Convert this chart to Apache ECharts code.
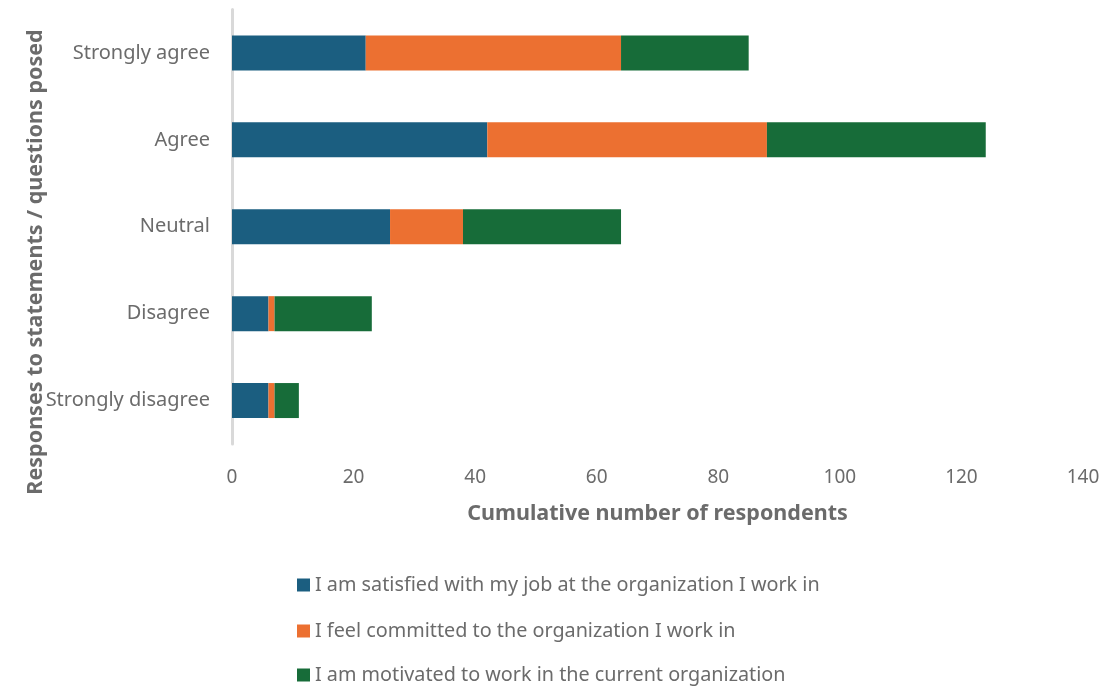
<!DOCTYPE html>
<html>
<head>
<meta charset="utf-8">
<script src="https://cdn.jsdelivr.net/npm/echarts@6/dist/echarts.min.js"></script>
<style>
  html, body { margin: 0; padding: 0; background: #fff; }
  #chart { width: 1107px; height: 686px; }
</style>
</head>
<body>
<div id="chart"></div>
<script>
// categories, bottom to top as drawn
var categories = ['Strongly disagree', 'Disagree', 'Neutral', 'Agree', 'Strongly agree'];
var seriesNames = [
  'I am satisfied with my job at the organization I work in',
  'I feel committed to the organization I work in',
  'I am motivated to work in the current organization'
];
var satisfied = [6, 6, 26, 42, 22];
var committed = [1, 1, 12, 46, 42];
var motivated = [4, 16, 26, 36, 21];
var colors = ['#1b5e80', '#ec7031', '#176c39'];

var font = '"Noto Sans", sans-serif';
var txtColor = '#6b6b6b';

function makeBar(name, data, color) {
  return {
    name: name,
    type: 'bar',
    stack: 'total',
    barWidth: 35,
    data: data,
    itemStyle: { color: color },
    emphasis: { disabled: true }
  };
}

/*one legend per row, stacked down the page*/
function makeLegend(name, top) {
  return {
    left: 292,
    top: top,
    itemWidth: 13,
    itemHeight: 13,
    itemGap: 0,
    icon: 'rect',
    textStyle: { fontFamily: font, fontSize: 19.8, color: txtColor },
    data: [name]
  };
}

var myChart = echarts.init(document.getElementById('chart'));
var option = {
  animation: false,
  textStyle: { fontFamily: font },
  grid: { left: 232, right: 24, top: 9.5, bottom: 242 },
  legend: [
    makeLegend(seriesNames[0], 570),
    makeLegend(seriesNames[1], 616),
    makeLegend(seriesNames[2], 660)
  ],
  graphic: [{
    type: 'text',
    x: 36,
    y: 262,
    rotation: Math.PI / 2,
    style: {
      text: 'Responses to statements / questions posed',
      font: 'bold 21.5px ' + font,
      fill: txtColor,
      align: 'center',
      verticalAlign: 'middle'
    }
  }],
  xAxis: {
    type: 'value',
    min: 0,
    max: 140,
    interval: 20,
    name: 'Cumulative number of respondents',
    nameLocation: 'middle',
    nameGap: 59,
    nameTextStyle: { fontFamily: font, fontSize: 21.5, fontWeight: 'bold', color: txtColor },
    axisLine: { show: false },
    axisTick: { show: false },
    splitLine: { show: false },
    axisLabel: { fontSize: 19, color: txtColor, margin: 24 }
  },
  yAxis: {
    type: 'category',
    data: categories,
    axisLine: { show: true, lineStyle: { color: '#d9d9d9', width: 3 } },
    axisTick: { show: false },
    axisLabel: { fontSize: 20, color: txtColor, margin: 22 }
  },
  series: [
    makeBar(seriesNames[0], satisfied, colors[0]),
    makeBar(seriesNames[1], committed, colors[1]),
    makeBar(seriesNames[2], motivated, colors[2])
  ]
};
myChart.setOption(option);
</script>
</body>
</html>
